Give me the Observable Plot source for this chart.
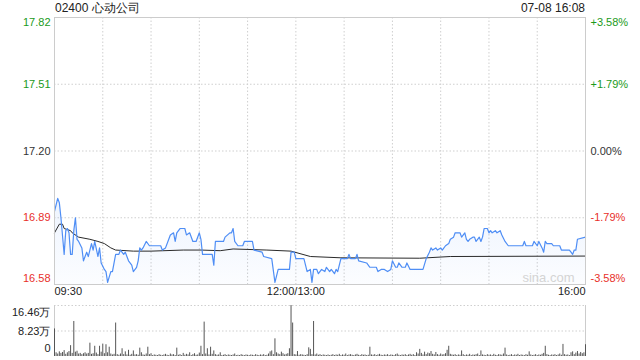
<!DOCTYPE html>
<html>
<head>
<meta charset="utf-8">
<script src="https://cdn.jsdelivr.net/npm/d3@7"></script>
<script src="https://cdn.jsdelivr.net/npm/@observablehq/plot@0.6"></script>
<style>
  html, body { margin: 0; padding: 0; background: #fff; }
  #wrap { position: relative; width: 640px; height: 360px; font-family: "Liberation Sans", Arial, sans-serif; }
  .abs { position: absolute; }
  .hdr { font-size: 12px; color: #222; top: 1px; line-height: 14px; }
</style>
</head>
<body>
<div id="wrap">
  <div class="abs hdr" id="title" style="left:55px;"></div>
  <div class="abs hdr" id="stamp" style="right:55px;"></div>
  <div class="abs" id="main" style="left:0;top:0;"></div>
  <div class="abs" id="vol" style="left:0;top:300px;"></div>
</div>
<script>
const stockTitle = "02400 心动公司";
const stampText = "07-08 16:08";
const prevClose = 17.20;

// price (blue) line: trading minute since open, price
const priceMinutes = [0,2,3,4,6,7,8,9,10,11,12,13,14,15,17,18,20,21,23,24,25,27,28,29,31,32,33,35,36,38,40,41,43,44,46,48,49,51,52,53,54,55,57,59,66,67,69,72,74,75,76,78,81,82,84,86,88,90,91,92,98,99,100,105,106,109,110,111,112,114,117,118,123,124,129,130,135,137,139,146,147,149,150,155,157,159,160,161,163,164,166,168,169,171,172,174,175,176,178,182,183,184,187,188,189,194,196,200,201,203,205,207,209,210,212,213,214,216,218,219,221,229,231,233,234,235,237,238,240,241,243,245,246,248,249,252,253,255,256,257,258,260,261,262,264,265,266,267,269,270,271,272,274,275,277,278,280,282,291,292,293,297,298,300,301,303,304,305,306,309,310,314,315,320,321,322,323,324,325,330];
const prices = [16.92,16.98,16.96,16.89,16.72,16.83,16.84,16.82,16.72,16.72,16.83,16.89,16.79,16.78,16.75,16.69,16.73,16.71,16.77,16.74,16.78,16.71,16.75,16.68,16.65,16.64,16.59,16.64,16.64,16.72,16.72,16.74,16.72,16.73,16.69,16.67,16.64,16.66,16.69,16.75,16.74,16.75,16.78,16.76,16.76,16.74,16.75,16.81,16.82,16.78,16.82,16.84,16.84,16.81,16.82,16.78,16.78,16.82,16.79,16.72,16.72,16.67,16.78,16.78,16.80,16.82,16.82,16.84,16.78,16.76,16.76,16.78,16.78,16.74,16.73,16.71,16.70,16.59,16.65,16.65,16.73,16.73,16.70,16.70,16.64,16.65,16.59,16.65,16.65,16.63,16.65,16.64,16.66,16.64,16.65,16.63,16.65,16.64,16.70,16.70,16.72,16.70,16.70,16.72,16.69,16.68,16.66,16.66,16.64,16.65,16.65,16.64,16.65,16.69,16.66,16.66,16.68,16.66,16.66,16.68,16.65,16.65,16.70,16.73,16.75,16.74,16.75,16.74,16.75,16.74,16.76,16.77,16.79,16.80,16.82,16.82,16.80,16.82,16.79,16.78,16.79,16.80,16.80,16.78,16.80,16.78,16.80,16.84,16.84,16.82,16.83,16.82,16.83,16.82,16.83,16.81,16.78,16.76,16.76,16.78,16.76,16.76,16.78,16.76,16.78,16.75,16.73,16.78,16.77,16.77,16.76,16.76,16.74,16.74,16.73,16.72,16.74,16.74,16.79,16.80];

// average price (black) line
const avgMinutes = [0,3,5,6,10,11,15,22,27,31,35,38,49,60,80,91,103,111,132,147,159,178,227,246,330];
const avgPrices = [16.82,16.86,16.86,16.84,16.83,16.82,16.80,16.79,16.78,16.77,16.75,16.74,16.735,16.735,16.74,16.74,16.737,16.745,16.74,16.735,16.71,16.704,16.702,16.71,16.712];

// volume per minute, in 万 shares
const volumes = [
  8.9,1.2,0.8,1.5,1.0,1.3,1.9,0.7,1.2,1.6,
  3.5,1.0,11.3,1.4,1.7,0.8,1.0,0.6,0.9,1.2,
  0.8,1.0,4.3,0.7,0.9,3.3,1.1,0.6,3.3,1.4,
  4.0,0.9,3.8,1.2,3.0,0.8,0.5,0.7,10.8,0.6,
  0.4,0.8,2.5,0.6,1.5,0.5,2.0,0.4,0.7,1.8,
  0.5,0.6,0.4,2.7,1.2,0.5,0.4,0.8,3.0,0.6,
  0.9,0.3,0.5,0.4,0.3,0.6,0.4,0.3,0.5,0.7,
  0.4,0.3,0.8,0.5,0.6,0.3,2.7,0.4,0.6,0.3,
  1.0,0.4,0.7,0.5,1.2,0.3,0.6,0.9,0.4,0.5,
  1.1,3.3,0.6,11.1,0.8,2.5,0.5,3.0,0.7,1.8,
  0.6,0.4,0.5,1.2,0.3,0.4,0.6,0.3,0.5,0.4,
  0.3,0.5,0.8,0.3,0.4,0.3,0.6,0.4,0.3,0.5,
  0.4,0.3,0.5,0.4,0.3,0.6,0.4,0.3,0.5,0.4,
  0.6,0.3,0.4,0.8,1.5,1.8,0.6,5.7,1.2,0.8,
  0.6,1.4,0.9,0.5,0.7,0.9,2.5,16.46,10.8,0.6,
  0.5,1.6,0.4,0.6,0.5,0.4,0.3,0.6,2.8,2.3,
  0.6,11.3,0.5,0.8,0.4,0.6,0.3,0.5,0.4,0.3,
  0.5,0.3,0.4,0.6,0.3,0.5,0.4,0.7,0.3,0.5,
  0.4,0.8,0.3,0.5,0.6,0.4,0.3,0.5,0.7,0.4,
  0.3,0.6,0.4,0.5,0.3,0.4,3.0,0.5,0.4,0.6,
  0.3,0.5,0.7,0.4,0.3,0.5,0.4,0.6,0.3,0.5,
  0.4,0.3,0.6,0.8,0.4,0.3,0.5,0.4,0.6,0.3,
  0.5,0.7,0.4,0.6,0.3,1.2,0.8,2.3,1.0,0.5,
  1.4,0.6,1.1,0.9,1.6,0.7,0.5,1.3,0.6,0.4,
  0.8,0.5,0.6,0.9,2.0,3.3,0.7,0.5,0.4,0.6,
  0.3,0.5,0.4,1.8,0.6,0.3,0.5,0.4,0.7,0.3,
  0.5,0.4,0.6,0.8,0.3,1.8,0.5,0.4,0.3,0.6,
  0.4,0.5,0.3,0.7,0.4,0.3,0.6,0.5,0.4,0.8,
  2.7,0.5,0.3,0.4,0.6,0.3,0.5,0.4,0.7,0.3,
  0.5,0.4,0.3,0.6,0.4,1.5,0.5,0.3,0.4,0.6,
  0.3,0.5,0.4,0.7,1.0,3.3,0.6,0.4,0.3,0.5,
  0.4,0.6,0.3,0.5,0.8,0.4,3.9,0.6,0.4,0.5,
  0.3,1.2,1.5,0.6,1.1,1.6,0.8,1.3,0.9,1.2,3.8
];

const priceTicks = [17.82, 17.51, 17.20, 16.89, 16.58];
const pctTicks = ["+3.58%", "+1.79%", "0.00%", "-1.79%", "-3.58%"];
const timeLabels = ["09:30", "12:00/13:00", "16:00"];
const timeLabelMinutes = [0, 150, 330];
const gridMinutes = [30, 60, 90, 120, 150, 180, 210, 240, 270, 300];
const volTicks = [16.46, 8.23, 0];
const volTickLabels = ["16.46万", "8.23万", "0"];
const watermark = "sina.com";

const FONT = '"Liberation Sans", Arial, sans-serif';
const GREEN = "#1a9a1a", RED = "#e8302a", DARK = "#333";
const BLUE = "#4f8ef5";
const GRID = "#cfcfcf";
const colorFor = v => v > prevClose + 1e-9 ? GREEN : (v < prevClose - 1e-9 ? RED : DARK);

document.getElementById("title").textContent = stockTitle;
document.getElementById("stamp").textContent = stampText;

const priceData = priceMinutes.map((m, i) => ({m, p: prices[i]}));
const avgData = avgMinutes.map((m, i) => ({m, p: avgPrices[i]}));
const yMin = priceTicks[priceTicks.length - 1];
const xDomain = [0, 330];

const labelDy = [5, 0, 0, 0, -6];
const leftLabels = priceTicks.map((t, i) => Plot.text([t], {
  y: d => d, text: d => d.toFixed(2), frameAnchor: "left", textAnchor: "end",
  dx: -4, dy: labelDy[i], fill: colorFor(t), fontSize: 11
}));
const rightLabels = priceTicks.map((t, i) => Plot.text([t], {
  y: d => d, text: () => pctTicks[i], frameAnchor: "right", textAnchor: "start",
  dx: 5, dy: labelDy[i], fill: colorFor(t), fontSize: 11
}));
const anchors = ["start", "middle", "end"];
const timeMarks = timeLabels.map((s, i) => Plot.text([timeLabelMinutes[i]], {
  x: d => d, text: () => s, frameAnchor: "bottom", textAnchor: anchors[i],
  dy: 10, fill: "#222", fontSize: 11
}));

const main = Plot.plot({
  width: 640, height: 300,
  marginTop: 17, marginBottom: 16, marginLeft: 54, marginRight: 55,
  x: {domain: xDomain, axis: null},
  y: {domain: [yMin, priceTicks[0]], axis: null},
  style: {fontFamily: FONT, fontSize: "11px", background: "transparent", overflow: "visible"},
  marks: [
    Plot.ruleX(gridMinutes, {stroke: GRID, strokeDasharray: "1.5,2"}),
    Plot.ruleY(priceTicks.slice(1, -1), {stroke: GRID, strokeDasharray: "1.5,2"}),
    Plot.areaY(priceData, {x: "m", y1: yMin, y2: "p", fill: "url(#priceFill)"}),
    Plot.line(avgData, {x: "m", y: "p", stroke: "#2a2a2a", strokeWidth: 1}),
    Plot.line(priceData, {x: "m", y: "p", stroke: BLUE, strokeWidth: 1.2}),
    Plot.frame({stroke: "#cccccc"}),
    Plot.text([watermark], {text: d => d, frameAnchor: "bottom-right", dx: -11, dy: -3, fill: "#d4d4d4", fontSize: 13}),
    ...leftLabels, ...rightLabels, ...timeMarks
  ]
});
const defs = document.createElementNS("http://www.w3.org/2000/svg", "defs");
defs.innerHTML = `<linearGradient id="priceFill" x1="0" y1="0" x2="0" y2="1">
  <stop offset="0" stop-color="${BLUE}" stop-opacity="0.10"/>
  <stop offset="1" stop-color="${BLUE}" stop-opacity="0.02"/></linearGradient>`;
main.insertBefore(defs, main.firstChild);
document.getElementById("main").appendChild(main);

const volDy = [7, 0, -8];
const volLabels = volTicks.map((t, i) => Plot.text([t], {
  y: d => d, text: () => volTickLabels[i], frameAnchor: "left", textAnchor: "end",
  dx: -4, dy: volDy[i], fill: "#222", fontSize: 11
}));
const vol = Plot.plot({
  width: 640, height: 60,
  marginTop: 5, marginBottom: 4, marginLeft: 54, marginRight: 55,
  x: {domain: xDomain, axis: null},
  y: {domain: [0, volTicks[0]], axis: null},
  style: {fontFamily: FONT, fontSize: "11px", background: "transparent", overflow: "visible"},
  marks: [
    Plot.ruleY(volTicks.slice(0, 2), {stroke: GRID, strokeDasharray: "1.5,2"}),
    Plot.ruleX(xDomain, {stroke: "#cccccc"}),
    Plot.ruleX(volumes, {x: (d, i) => i, y1: 0, y2: d => d, stroke: "#555", strokeWidth: 1}),
    ...volLabels
  ]
});
document.getElementById("vol").appendChild(vol);
</script>
</body>
</html>
